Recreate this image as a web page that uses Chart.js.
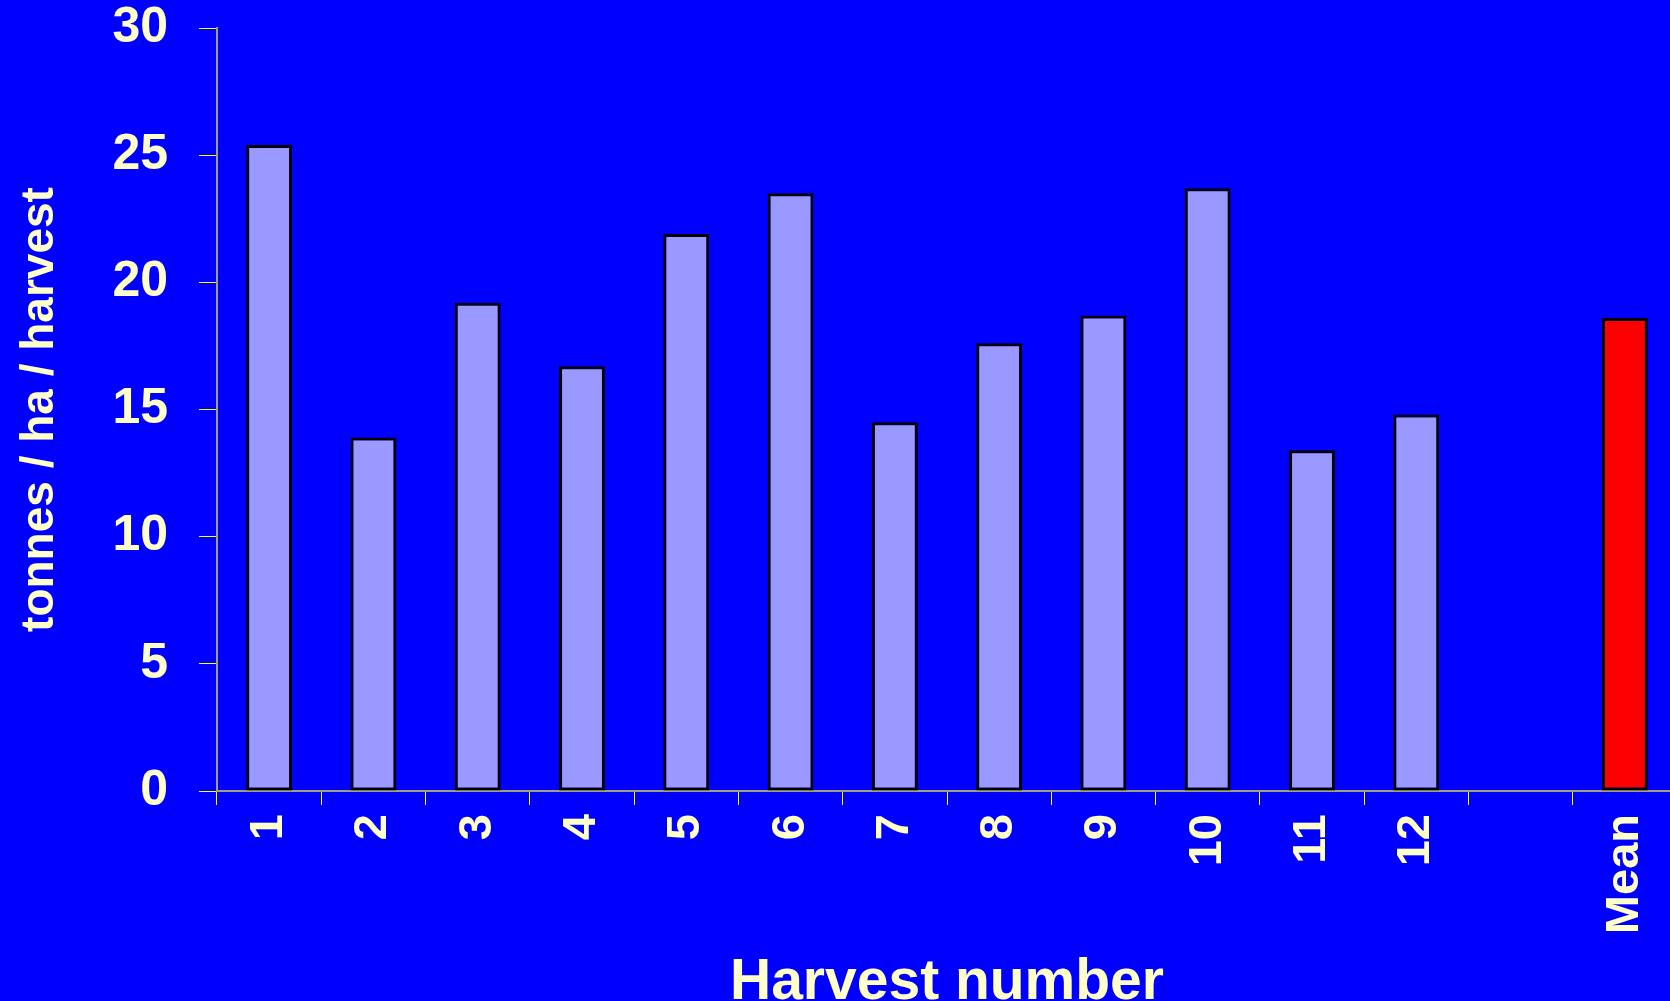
<!DOCTYPE html>
<html>
<head>
<meta charset="utf-8">
<script src="https://cdn.jsdelivr.net/npm/chart.js@4"></script>
<style>
    html, body { margin: 0; padding: 0; overflow: hidden; background: #0000ff; }
    #wrap { position: relative; width: 1680px; height: 1020px; }
</style>
</head>
<body>
<div id="wrap"><canvas id="chart"></canvas></div>
<script>
// Harvest categories, with an empty slot before the mean
const harvests = ['1', '2', '3', '4', '5', '6', '7', '8', '9', '10', '11', '12', '', 'Mean'];
const yields = [25.4, 13.9, 19.2, 16.7, 21.9, 23.5, 14.5, 17.6, 18.7, 23.7, 13.4, 14.8, null, 18.6];
const yTicks = [0, 5, 10, 15, 20, 25, 30];

const textColor = '#ffffcc';
const font = 'Liberation Sans, Arial, sans-serif';

let barColors = harvests.map(h => h === 'Mean' ? '#ff0000' : '#9999ff');

new Chart(document.getElementById('chart'), {
    type: 'bar',
    data: {
        labels: harvests,
        datasets: [
            {
                data: yields,
                backgroundColor: barColors,
                borderColor: '#000000',
                borderWidth: 3,
                borderSkipped: false,
                barPercentage: 0.44,
                categoryPercentage: 1,
            },
        ],
    },
    options: {
        responsive: true,
        maintainAspectRatio: false,
        animation: false,
        layout: { padding: { top: 28, right: 3, bottom: 0, left: 0 } },
        plugins: {
            legend: { display: false },
            tooltip: { enabled: false },
        },
        scales: {
            x: {
                afterFit: scale => {
                    scale.height = 229;
                    scale.paddingLeft = 0;
                    scale.paddingRight = 0;
                },
                grid: {
                    offset: true,
                    drawOnChartArea: false,
                    tickLength: 14,
                    tickColor: '#ffff00',
                    tickWidth: 1,
                },
                border: { color: '#a0a080', width: 2 },
                ticks: {
                    color: textColor,
                    font: { family: font, size: 47, weight: 'bold' },
                    minRotation: 90,
                    maxRotation: 90,
                    autoSkip: false,
                    padding: 9,
                },
                title: {
                    display: true,
                    text: 'Harvest number',
                    color: textColor,
                    font: { family: font, size: 57, weight: 'bold' },
                    padding: { top: 0, bottom: 3 },
                },
            },
            y: {
                min: 0,
                max: 30,
                afterFit: scale => {
                    scale.width = 217;
                    scale.paddingTop = 0;
                    scale.paddingBottom = 0;
                },
                afterBuildTicks: scale => { scale.ticks = yTicks.map(v => ({ value: v })); },
                grid: {
                    drawOnChartArea: false,
                    tickLength: 18,
                    tickColor: '#ffff00',
                    tickWidth: 1,
                },
                border: { color: '#a0a080', width: 2 },
                ticks: {
                    color: textColor,
                    font: { family: font, size: 50, weight: 'bold' },
                    padding: 31,
                },
                title: {
                    display: true,
                    text: 'tonnes / ha / harvest',
                    color: textColor,
                    font: { family: font, size: 46, weight: 'bold' },
                    padding: { top: 13, bottom: 0 },
                },
            },
        },
    },
});
</script>
</body>
</html>
